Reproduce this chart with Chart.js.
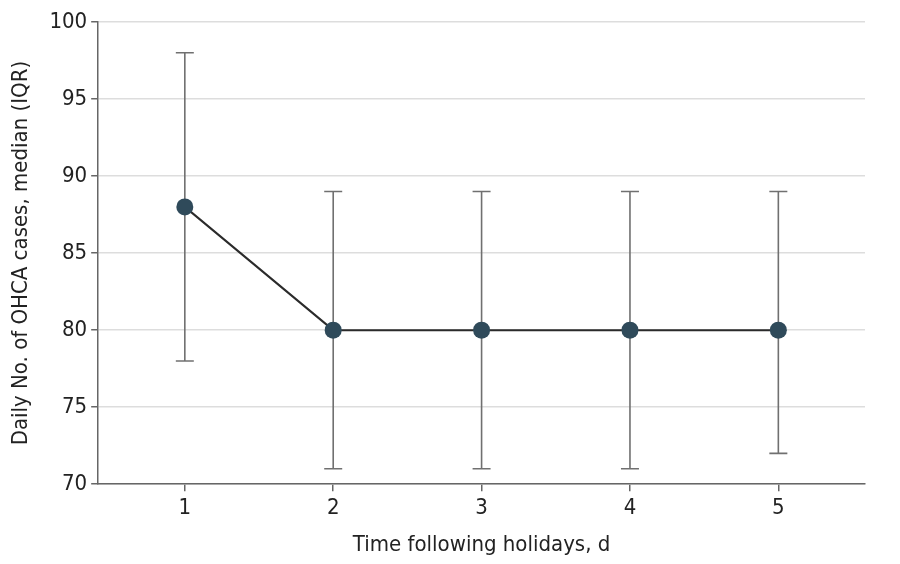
<!DOCTYPE html>
<html>
<head>
<meta charset="utf-8">
<script src="https://cdn.jsdelivr.net/npm/chart.js@4"></script>
<style>
  html, body { margin: 0; padding: 0; background: #ffffff; }
  #wrap { width: 900px; height: 564px; position: relative; }
</style>
</head>
<body>
<div id="wrap"><canvas id="c"></canvas></div>
<script>
const days = [1, 2, 3, 4, 5];
const dayLabels = ['1', '2', '3', '4', '5'];
const medians = [88, 80, 80, 80, 80];
const q1 = [78, 71, 71, 71, 72];
const q3 = [98, 89, 89, 89, 89];
const yTicks = [70, 75, 80, 85, 90, 95, 100];

const FONT = "'DejaVu Sans Condensed', 'DejaVu Sans', sans-serif";

const errorBars = {
  id: 'errorBars',
  beforeDatasetsDraw(chart) {
    const ctx = chart.ctx;
    const xs = chart.scales.x, ys = chart.scales.y;
    ctx.save();
    ctx.strokeStyle = '#707070';
    ctx.lineWidth = 1.6;
    days.forEach((d, i) => {
      const x = xs.getPixelForValue(d);
      const yl = ys.getPixelForValue(q1[i]);
      const yh = ys.getPixelForValue(q3[i]);
      ctx.beginPath();
      ctx.moveTo(x, yl); ctx.lineTo(x, yh);
      ctx.moveTo(x - 9, yl); ctx.lineTo(x + 9, yl);
      ctx.moveTo(x - 9, yh); ctx.lineTo(x + 9, yh);
      ctx.stroke();
    });
    ctx.restore();
  }
};

new Chart(document.getElementById('c'), {
  type: 'line',
  data: {
    datasets: [{
      data: days.map((d, i) => ({ x: d, y: medians[i] })),
      borderColor: '#2b2b2b',
      borderWidth: 2,
      pointBackgroundColor: '#2f4a5a',
      pointBorderColor: '#2f4a5a',
      pointRadius: 8.5,
      pointBorderWidth: 0,
      tension: 0
    }]
  },
  options: {
    responsive: true,
    maintainAspectRatio: false,
    animation: false,
    layout: { padding: { top: 22, right: 35, bottom: 6, left: 8 } },
    plugins: { legend: { display: false }, tooltip: { enabled: false } },
    scales: {
      x: {
        type: 'linear',
        min: 0.416,
        max: 5.584,
        afterBuildTicks(axis) { axis.ticks = days.map(v => ({ value: v })); },
        ticks: {
          callback: (v) => dayLabels[days.indexOf(v)],
          color: '#222',
          font: { family: FONT, size: 22 },
          padding: 4
        },
        grid: { drawOnChartArea: false, drawTicks: true, tickLength: 7, color: '#666', lineWidth: 1.5 },
        border: { color: '#666', width: 1.5 },
        title: { display: true, text: 'Time following holidays, d', color: '#222', font: { family: FONT, size: 22 }, padding: { top: 6, bottom: 0 } }
      },
      y: {
        min: 70,
        max: 100,
        afterBuildTicks(axis) { axis.ticks = yTicks.map(v => ({ value: v })); },
        ticks: {
          color: '#222',
          font: { family: FONT, size: 22 },
          padding: 4
        },
        grid: { color: '#dddddd', lineWidth: 1.5, tickLength: 7, tickColor: '#666' },
        border: { color: '#666', width: 1.5 },
        title: { display: true, text: 'Daily No. of OHCA cases, median (IQR)', color: '#222', font: { family: FONT, size: 22 }, padding: { top: 0, bottom: 11 } }
      }
    }
  },
  plugins: [errorBars]
});
</script>
</body>
</html>
